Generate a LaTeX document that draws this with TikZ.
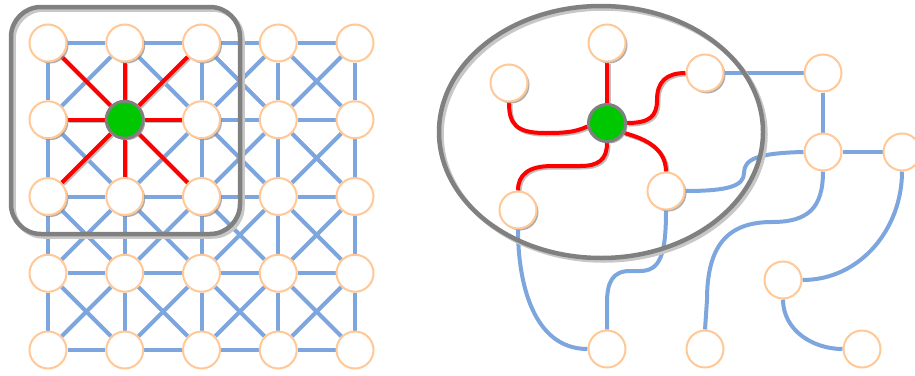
\documentclass[tikz,border=0pt]{standalone}
\usetikzlibrary{shadows}
\definecolor{nodeor}{RGB}{255,200,150}
\definecolor{edgeblue}{RGB}{125,165,222}
\definecolor{grn}{RGB}{0,200,0}
\pgfdeclarelayer{background}
\pgfdeclarelayer{foreground}
\pgfsetlayers{background,main,foreground}
\begin{document}
\begin{tikzpicture}[x=1pt,y=-1pt,
  vnode/.style={circle, draw=nodeor, fill=white, line width=2pt, minimum size=37pt, inner sep=0pt},
  shnode/.style={vnode, drop shadow={shadow xshift=2pt, shadow yshift=-2pt, fill=black!45, opacity=0.7}},
  cnode/.style={circle, draw=black!50, fill=grn, line width=3pt, minimum size=37pt, inner sep=0pt,
    drop shadow={shadow xshift=2pt, shadow yshift=-2pt, fill=black!45, opacity=0.7}},
  bedge/.style={draw=edgeblue, line width=4pt},
  redge/.style={draw=red, line width=4pt,
    preaction={draw=black!25, line width=4pt, transform canvas={xshift=1.5pt,yshift=-1.5pt}}},
  region/.style={draw=black!50, line width=4.5pt,
    preaction={draw=black!22, line width=4.5pt, transform canvas={xshift=2.5pt,yshift=-2.5pt}}}
]
\useasboundingbox (0,0) rectangle (915,375);
% ---------- left grid: nodes ----------
\foreach \i in {0,...,4}{
  \foreach \j in {0,...,4}{
    \pgfmathtruncatemacro{\ins}{(\i<3)&&(\j<3) ? 1 : 0}
    \ifnum\i=1 \ifnum\j=1 \def\ins{2}\fi\fi
    \ifcase\ins
      \node[vnode] (n-\i-\j) at ({48+76.75*\i},{43+76.75*\j}) {};
    \or
      \node[shnode] (n-\i-\j) at ({48+76.75*\i},{43+76.75*\j}) {};
    \or
      \node[cnode] (n-\i-\j) at ({48+76.75*\i},{43+76.75*\j}) {};
    \fi
  }
}
\begin{pgfonlayer}{background}
% vertical blue edges
\foreach \i in {0,...,4}{
  \foreach \j in {0,...,3}{
    \pgfmathtruncatemacro{\jn}{\j+1}
    \ifnum\i=1 \ifnum\j<2 \else \draw[bedge] (n-\i-\j) -- (n-\i-\jn); \fi
    \else \draw[bedge] (n-\i-\j) -- (n-\i-\jn); \fi
  }
}
% horizontal blue edges
\foreach \j in {0,...,4}{
  \foreach \i in {0,...,3}{
    \pgfmathtruncatemacro{\in}{\i+1}
    \ifnum\j=1 \ifnum\i<2 \else \draw[bedge] (n-\i-\j) -- (n-\in-\j); \fi
    \else \draw[bedge] (n-\i-\j) -- (n-\in-\j); \fi
  }
}
% diagonal blue edges
\foreach \i in {0,...,3}{
  \foreach \j in {0,...,3}{
    \pgfmathtruncatemacro{\in}{\i+1}
    \pgfmathtruncatemacro{\jn}{\j+1}
    \pgfmathtruncatemacro{\skipA}{(((\i==0)&&(\j==0))||((\i==1)&&(\j==1))) ? 1 : 0}
    \pgfmathtruncatemacro{\skipB}{(((\i==1)&&(\j==0))||((\i==0)&&(\j==1))) ? 1 : 0}
    \ifnum\skipA=0 \draw[bedge] (n-\i-\j) -- (n-\in-\jn); \fi
    \ifnum\skipB=0 \draw[bedge] (n-\in-\j) -- (n-\i-\jn); \fi
  }
}
% red edges from centre
\foreach \a/\b in {0/0,1/0,2/0,0/1,2/1,0/2,1/2,2/2}{
  \draw[redge] (n-1-1) -- (n-\a-\b);
}
\end{pgfonlayer}
\begin{pgfonlayer}{foreground}
\draw[region, rounded corners=30pt] (11,7) rectangle (240,234);
\end{pgfonlayer}
% ---------- right graph ----------
\node[shnode] (A) at (607,43) {};
\node[shnode] (B) at (509,83) {};
\node[shnode] (C) at (705,73) {};
\node[shnode] (D) at (518,210) {};
\node[shnode] (E) at (666,191) {};
\node[cnode]  (G) at (607,123) {};
\node[vnode] (F) at (823,73) {};
\node[vnode] (H) at (823,152) {};
\node[vnode] (I) at (902,152) {};
\node[vnode] (J) at (607,349) {};
\node[vnode] (K) at (705,349) {};
\node[vnode] (L) at (783,280) {};
\node[vnode] (M) at (862,349) {};
\begin{pgfonlayer}{background}
% blue edges
\draw[bedge] (C) -- (F);
\draw[bedge] (F) -- (H);
\draw[bedge] (H) -- (I);
\draw[bedge] (E.east) .. controls (728,191) and (744,186) .. (744,173)
                      .. controls (744,159) and (758,153) .. (H.west);
\draw[bedge] (D) to[out=-90,in=180] (J);
\draw[bedge] (E.south) .. controls (666,255) and (660,271) .. (640,271) -- (630,271)
                       .. controls (612,271) and (607,283) .. (607,303) -- (J.north);
\draw[bedge] (H.south) .. controls (823,208) and (808,222) .. (772,222)
                       .. controls (728,222) and (707,245) .. (707,300) -- (K.north);
\draw[bedge] (I) to[out=-90,in=0] (L);
\draw[bedge] (L) to[out=-90,in=180] (M);
% red edges
\draw[redge] (G) -- (A);
\draw[redge] (G.190) .. controls (574,133) and (560,133) .. (545,133)
                     .. controls (516,133) and (509,124) .. (B.south);
\draw[redge] (G.east) .. controls (650,123) and (657,116) .. (657,100)
                      .. controls (657,82) and (666,73) .. (C.west);
\draw[redge] (G.-30) .. controls (638,137) and (666,145) .. (E.north);
\draw[redge] (G.south) .. controls (607,160) and (598,166) .. (580,166) -- (552,166)
                       .. controls (528,166) and (518,175) .. (D.north);
\end{pgfonlayer}
\begin{pgfonlayer}{foreground}
\draw[region] (601,132) ellipse [x radius=162, y radius=126];
\end{pgfonlayer}
\end{tikzpicture}
\end{document}
